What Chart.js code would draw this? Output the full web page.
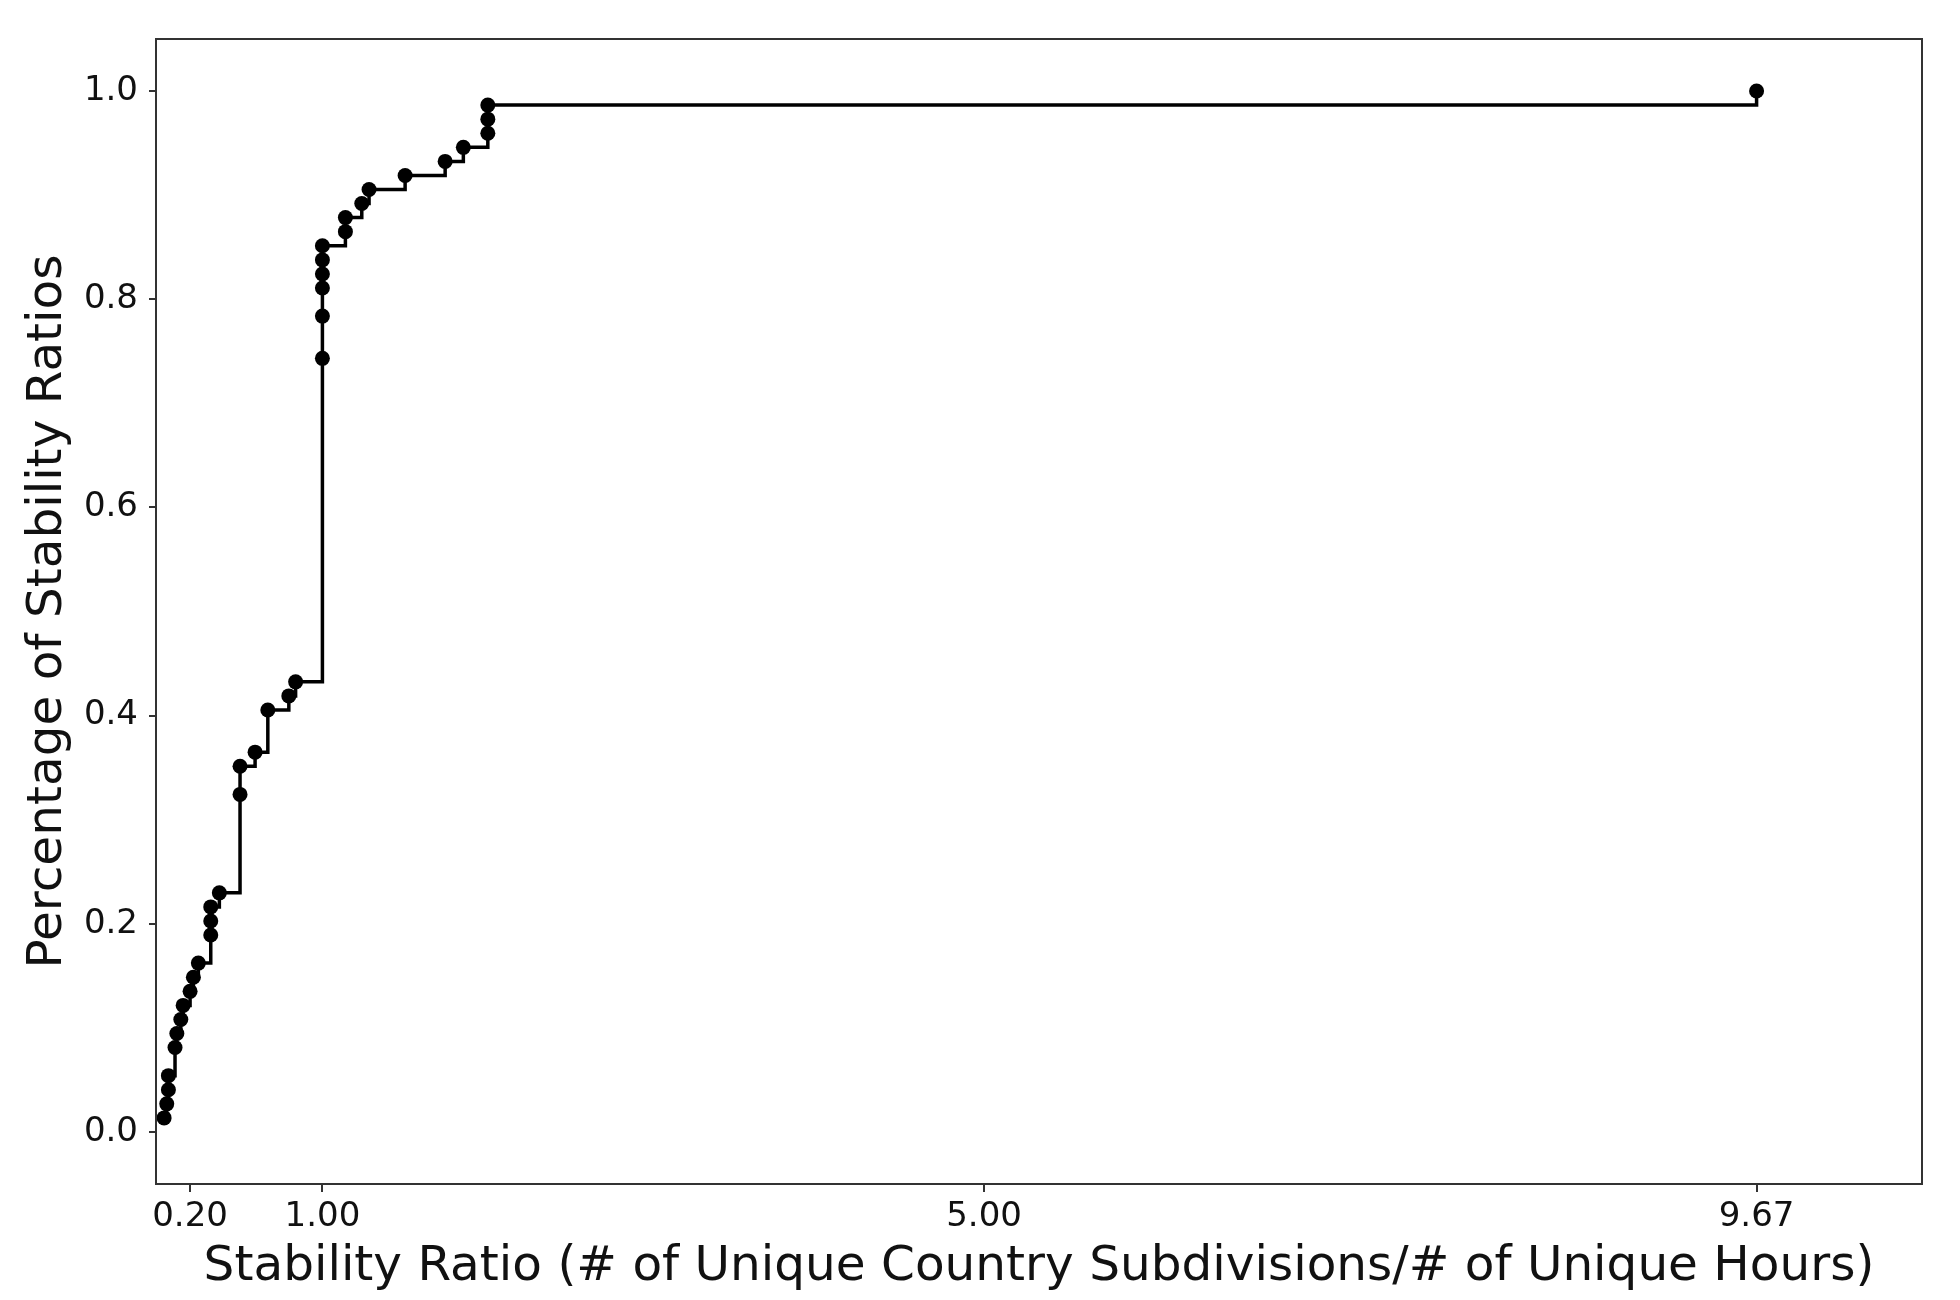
<!DOCTYPE html>
<html>
<head>
<meta charset="utf-8">
<script src="https://cdn.jsdelivr.net/npm/chart.js@4.4.1/dist/chart.umd.min.js"></script>
<style>
  html, body { margin: 0; padding: 0; background: #ffffff; }
  #wrap { width: 1960px; height: 1300px; }
</style>
</head>
<body>
<div id="wrap"><canvas id="c" width="1960" height="1300"></canvas></div>
<script>
// Stability ratio values (x) and cumulative share (y)
const stabilityRatios = [
  0.043, 0.059, 0.069, 0.069, 0.109, 0.120, 0.144, 0.158, 0.200, 0.220,
  0.250, 0.325, 0.325, 0.325, 0.377, 0.502, 0.502, 0.593, 0.670, 0.797,
  0.838, 1.000, 1.000, 1.000, 1.000, 1.000, 1.000, 1.139, 1.139, 1.238,
  1.282, 1.500, 1.742, 1.852, 2.000, 2.000, 2.000, 9.670
];
const cumulativeShare = [
  0.0135, 0.0270, 0.0405, 0.0541, 0.0811, 0.0946, 0.1081, 0.1216, 0.1351, 0.1486,
  0.1622, 0.1892, 0.2027, 0.2162, 0.2297, 0.3243, 0.3514, 0.3649, 0.4054, 0.4189,
  0.4324, 0.7432, 0.7838, 0.8108, 0.8243, 0.8378, 0.8514, 0.8649, 0.8784, 0.8919,
  0.9054, 0.9189, 0.9324, 0.9459, 0.9595, 0.9730, 0.9865, 1.0000
];
const xTickValues = [0.2, 1.0, 5.0, 9.67];
const xTickLabels = ['0.20', '1.00', '5.00', '9.67'];
const yTickValues = [0.0, 0.2, 0.4, 0.6, 0.8, 1.0];
const yTickLabels = ['0.0', '0.2', '0.4', '0.6', '0.8', '1.0'];
const xTitle = 'Stability Ratio (# of Unique Country Subdivisions/# of Unique Hours)';
const yTitle = 'Percentage of Stability Ratios';

const points = stabilityRatios.map((x, i) => ({ x: x, y: cumulativeShare[i] }));

const FONT = 'DejaVu Sans';
const INK = '#111111';
const SPINE = '#333333';

const framePlugin = {
  id: 'frame',
  afterDatasetsDraw(chart) {
    const { ctx, chartArea: a } = chart;
    ctx.save();
    ctx.strokeStyle = SPINE;
    ctx.lineWidth = 2;
    ctx.strokeRect(a.left, a.top, a.right - a.left, a.bottom - a.top);
    ctx.restore();
  }
};

new Chart(document.getElementById('c'), {
  type: 'scatter',
  data: {
    datasets: [{
      data: points,
      showLine: true,
      stepped: true,
      borderColor: '#000000',
      borderWidth: 3.5,
      backgroundColor: '#000000',
      pointBackgroundColor: '#000000',
      pointBorderColor: '#000000',
      pointBorderWidth: 0,
      pointRadius: 7.5,
      pointHoverRadius: 7.5,
      fill: false
    }]
  },
  options: {
    responsive: false,
    animation: false,
    devicePixelRatio: 1,
    layout: { padding: { top: 39, right: 38, left: 0, bottom: 0 } },
    plugins: {
      legend: { display: false },
      tooltip: { enabled: false }
    },
    scales: {
      x: {
        type: 'linear',
        min: -0.006,
        max: 10.67,
        afterBuildTicks(scale) { scale.ticks = xTickValues.map(v => ({ value: v })); },
        afterFit(scale) { scale.height = 116; },
        ticks: {
          autoSkip: false,
          maxRotation: 0,
          padding: 5,
          color: INK,
          font: { family: FONT, size: 34 },
          callback(value, index) { return xTickLabels[index]; }
        },
        grid: {
          display: true,
          drawOnChartArea: false,
          drawTicks: true,
          tickLength: 8,
          tickColor: SPINE,
          tickWidth: 2,
          color: SPINE,
          lineWidth: 2
        },
        border: { display: false },
        title: {
          display: true,
          text: xTitle,
          color: INK,
          font: { family: FONT, size: 48.5 },
          padding: { top: 0, bottom: 3 }
        }
      },
      y: {
        type: 'linear',
        min: -0.05,
        max: 1.05,
        afterBuildTicks(scale) { scale.ticks = yTickValues.map(v => ({ value: v })); },
        afterFit(scale) { scale.width = 156; },
        ticks: {
          autoSkip: false,
          padding: 11,
          color: INK,
          font: { family: FONT, size: 34 },
          callback(value, index) { return yTickLabels[index]; }
        },
        grid: {
          display: true,
          drawOnChartArea: false,
          drawTicks: true,
          tickLength: 7,
          tickColor: SPINE,
          tickWidth: 2,
          color: SPINE,
          lineWidth: 2
        },
        border: { display: false },
        title: {
          display: true,
          text: yTitle,
          color: INK,
          font: { family: FONT, size: 48.5 },
          padding: { top: 19, bottom: 0 }
        }
      }
    }
  },
  plugins: [framePlugin]
});
</script>
</body>
</html>
